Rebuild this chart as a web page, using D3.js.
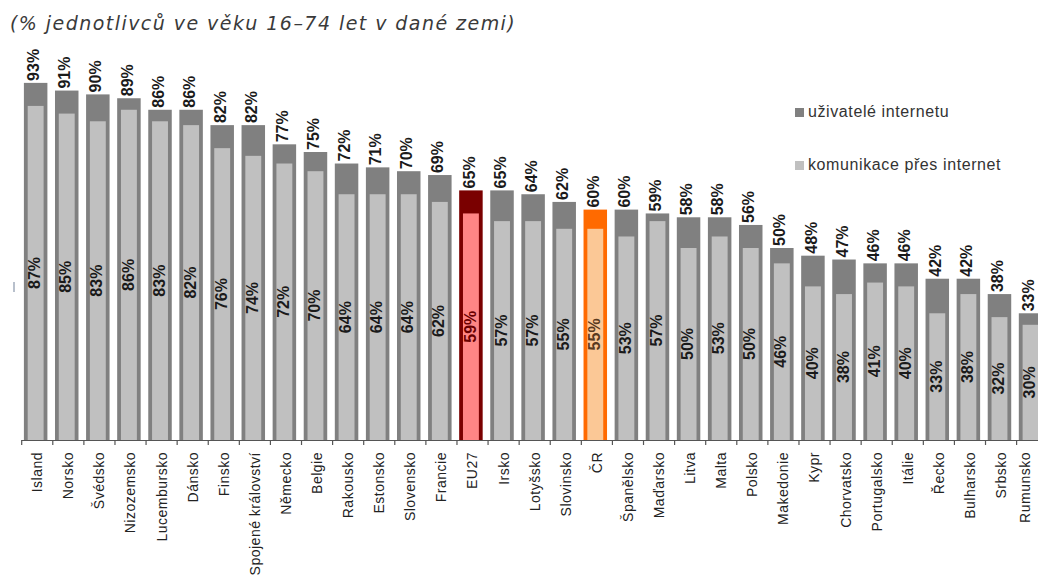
<!DOCTYPE html>
<html><head><meta charset="utf-8">
<script src="https://cdn.jsdelivr.net/npm/d3@7/dist/d3.min.js"></script>
<style>html,body{margin:0;padding:0;background:#fff;overflow:hidden}</style>
</head><body>
<svg id="c" width="1038" height="575"></svg>
<script>
const categories = ["Island","Norsko","Švédsko","Nizozemsko","Lucembursko","Dánsko","Finsko","Spojené království","Německo","Belgie","Rakousko","Estonsko","Slovensko","Francie","EU27","Irsko","Lotyšsko","Slovinsko","ČR","Španělsko","Maďarsko","Litva","Malta","Polsko","Makedonie","Kypr","Chorvatsko","Portugalsko","Itálie","Řecko","Bulharsko","Srbsko","Rumunsko"];
const internetUsers = [93,91,90,89,86,86,82,82,77,75,72,71,70,69,65,65,64,62,60,60,59,58,58,56,50,48,47,46,46,42,42,38,33];
const communication = [87,85,83,86,83,82,76,74,72,70,64,64,64,62,59,57,57,55,55,53,57,50,53,50,46,40,38,41,40,33,38,32,30];
const seriesNames = ["uživatelé internetu","komunikace přes internet"];
const titleText = "(% jednotlivců ve věku 16–74 let v dané zemi)";

const svg = d3.select("#c");
const W = 1038, H = 575;
svg.append("rect").attr("width",W).attr("height",H).attr("fill","#fff");

const baseY = 440;
const x = d3.scaleBand().domain(categories).range([21.7, 1047.7]).padding(0);
const y = d3.scaleLinear().domain([0,100]).range([baseY, 56]);

const colOuter = d => d === "EU27" ? "#7a0000" : d === "ČR" ? "#ff6a00" : "#808080";
const colInner = d => d === "EU27" ? "#ff8585" : d === "ČR" ? "#fbc896" : "#c0c0c0";
const colInLbl = d => d === "EU27" ? "#6a0000" : d === "ČR" ? "#5a3a20" : "#1a1a1a";

const barW = 23.5, inset = 3.8;
const bx = d => x(d) + 2.2;

const data = categories.map((c,i)=>({c, o: internetUsers[i], n: communication[i]}));

// title
svg.append("text").attr("x",10).attr("y",30)
  .attr("font-family","DejaVu Sans, Verdana, sans-serif").attr("font-style","italic")
  .attr("font-size",19).attr("letter-spacing",1.45).attr("fill","#3a3a3a").text(titleText);

// outer bars
svg.selectAll("rect.o").data(data).join("rect").attr("class","o")
  .attr("x", d=>bx(d.c)).attr("width", barW)
  .attr("y", d=>y(d.o)).attr("height", d=>baseY - y(d.o))
  .attr("fill", d=>colOuter(d.c));
// inner bars
svg.selectAll("rect.n").data(data).join("rect").attr("class","n")
  .attr("x", d=>bx(d.c)+inset).attr("width", barW-2*inset)
  .attr("y", d=>y(d.n)).attr("height", d=>baseY - y(d.n))
  .attr("fill", d=>colInner(d.c));

// outer labels
svg.selectAll("text.ol").data(data).join("text").attr("class","ol")
  .attr("transform", d=>`translate(${bx(d.c)+barW/2-2},${y(d.o)-2}) rotate(-90)`)
  .attr("dy","0.35em").attr("text-anchor","start")
  .attr("font-family","Liberation Sans, Arial, sans-serif").attr("font-weight","bold")
  .attr("font-size",16).attr("fill","#1a1a1a").text(d=>d.o+"%");
// inner labels
svg.selectAll("text.il").data(data).join("text").attr("class","il")
  .attr("transform", d=>`translate(${bx(d.c)+barW/2-1},${(y(d.n)+baseY)/2}) rotate(-90)`)
  .attr("dy","0.35em").attr("text-anchor","middle")
  .attr("font-family","Liberation Sans, Arial, sans-serif").attr("font-weight","bold")
  .attr("font-size",16).attr("fill", d=>colInLbl(d.c)).text(d=>d.n+"%");

// axis
const ax = svg.append("g");
ax.append("line").attr("x1",x.range()[0]).attr("x2",x.range()[1]).attr("y1",baseY+0.5).attr("y2",baseY+0.5)
  .attr("stroke","#555").attr("stroke-width",1.2);
ax.selectAll("line.t").data(categories).join("line").attr("class","t")
  .attr("x1", d=>x(d)).attr("x2", d=>x(d)).attr("y1",baseY).attr("y2",baseY+5)
  .attr("stroke","#555").attr("stroke-width",1.2);
ax.selectAll("text.xl").data(categories).join("text").attr("class","xl")
  .attr("transform", d=>`translate(${Math.min(x(d)+x.bandwidth()/2, W-13)},452) rotate(-90)`)
  .attr("dy","0.35em").attr("text-anchor","end")
  .attr("font-family","Liberation Sans, Arial, sans-serif")
  .attr("font-size",14).attr("letter-spacing",0.5).attr("fill","#222").text(d=>d);

// small left mark
svg.append("rect").attr("x",13).attr("y",282).attr("width",2).attr("height",10).attr("fill","#b8c0cc");

// legend
const lg = svg.append("g");
const legCols = ["#808080","#c0c0c0"];
const legY = [117, 170];
seriesNames.forEach((s,i)=>{
  lg.append("rect").attr("x",795).attr("y",legY[i]-9).attr("width",9).attr("height",9).attr("fill",legCols[i]);
  lg.append("text").attr("x",808).attr("y",legY[i])
    .attr("font-family","Liberation Sans, Arial, sans-serif").attr("font-size",16)
    .attr("letter-spacing",0.6).attr("fill","#333").text(s);
});
</script>
</body></html>
